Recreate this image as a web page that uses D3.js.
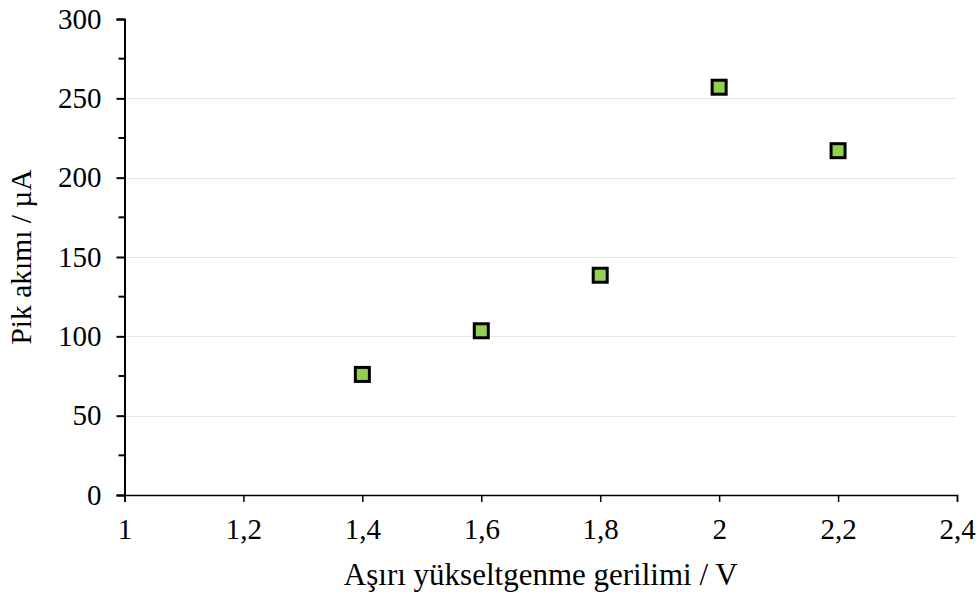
<!DOCTYPE html>
<html>
<head>
<meta charset="utf-8">
<script src="https://cdn.jsdelivr.net/npm/d3@7/dist/d3.min.js"></script>
<style>
  html, body { margin: 0; padding: 0; background: #fff; }
  svg text { font-family: "Liberation Serif", "Times New Roman", serif; fill: #000; }
</style>
</head>
<body>
<svg id="chart" width="979" height="595"></svg>
<script>
// Overvoltage (V) vs peak current (µA)
const voltages = [1.4, 1.6, 1.8, 2.0, 2.2];
const peakCurrents = [76, 103.5, 138.5, 257, 217];
const xTickValues = [1, 1.2, 1.4, 1.6, 1.8, 2, 2.2, 2.4];
const yTickValues = [0, 50, 100, 150, 200, 250, 300];
const yMinorTickValues = [25, 75, 125, 175, 225, 275];

const svg = d3.select("#chart");
const margin = { left: 124.5, right: 22, top: 19, bottom: 100 };
const W = 979, H = 595;

const x = d3.scaleLinear().domain([1, 2.4]).range([margin.left, W - margin.right]);
const y = d3.scaleLinear().domain([0, 300]).range([H - margin.bottom, margin.top]);

const fmt = d => String(+d.toFixed(1)).replace(".", ",");

// horizontal gridlines
svg.append("g")
  .selectAll("line")
  .data(yTickValues.filter(v => v > 0 && v < 300))
  .join("line")
  .attr("x1", x(1)).attr("x2", x(2.4))
  .attr("y1", d => Math.round(y(d)) + 0.5).attr("y2", d => Math.round(y(d)) + 0.5)
  .attr("stroke", "#e8e8e8").attr("stroke-width", 1);

// y axis
const yAxis = svg.append("g")
  .attr("transform", `translate(${x(1)},0)`)
  .call(d3.axisLeft(y).tickValues(yTickValues).tickSize(8).tickPadding(15).tickFormat(d => d));
yAxis.select(".domain").attr("stroke", "#000").attr("stroke-width", 2);
yAxis.selectAll(".tick line").attr("stroke", "#000").attr("stroke-width", 2);
yAxis.selectAll(".tick text").attr("font-size", 29).attr("font-family", "Liberation Serif");
yAxis.append("g")
  .selectAll("line")
  .data(yMinorTickValues)
  .join("line")
  .attr("x1", -6).attr("x2", 0)
  .attr("y1", d => y(d)).attr("y2", d => y(d))
  .attr("stroke", "#000").attr("stroke-width", 2);

// x axis
const xAxis = svg.append("g")
  .attr("transform", `translate(0,${y(0)})`)
  .call(d3.axisBottom(x).tickValues(xTickValues).tickSize(7).tickPadding(0).tickFormat(fmt));
xAxis.select(".domain").attr("stroke", "#000").attr("stroke-width", 1.5);
xAxis.selectAll(".tick line").attr("stroke", "#000").attr("stroke-width", 1.5);
xAxis.selectAll(".tick text")
  .attr("font-size", 29).attr("font-family", "Liberation Serif")
  .attr("dy", null).attr("y", 44);

// axis titles
svg.append("text")
  .attr("x", (x(1) + x(2.4)) / 2).attr("y", 585)
  .attr("text-anchor", "middle").attr("font-size", 31)
  .text("Aşırı yükseltgenme gerilimi / V");
svg.append("text")
  .attr("transform", `translate(31,${(y(0) + y(300)) / 2}) rotate(-90)`)
  .attr("text-anchor", "middle").attr("font-size", 29.5)
  .text("Pik akımı / µA");

// data markers
const points = voltages.map((v, i) => ({ v, c: peakCurrents[i] }));
svg.append("g")
  .selectAll("rect")
  .data(points)
  .join("rect")
  .attr("x", d => x(d.v) - 7).attr("y", d => y(d.c) - 7)
  .attr("width", 14).attr("height", 14)
  .attr("fill", "#92D050").attr("stroke", "#000").attr("stroke-width", 3);
</script>
</body>
</html>
